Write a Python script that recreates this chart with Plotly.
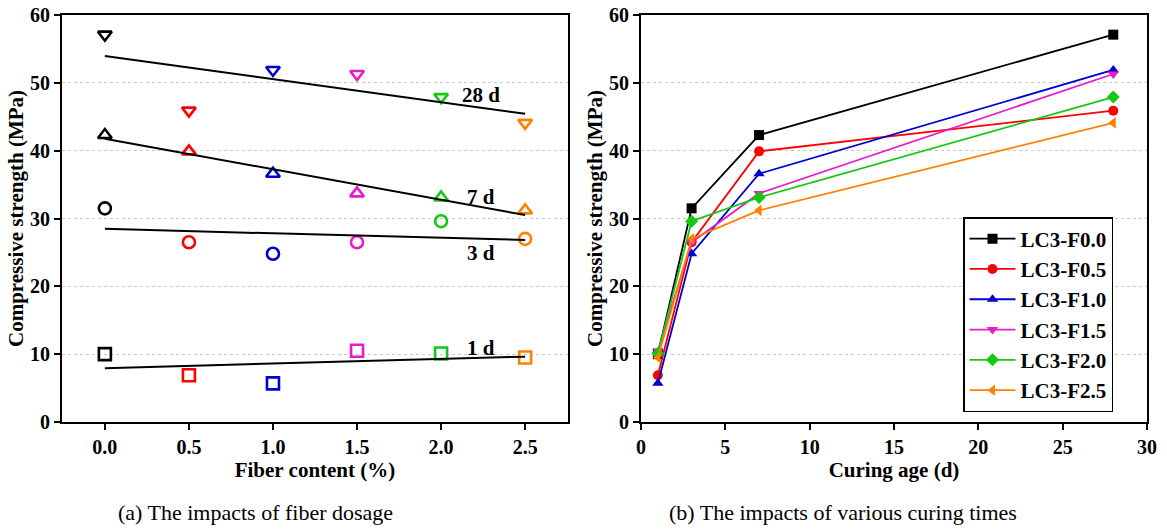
import numpy as np
import plotly.graph_objects as go

# ---- data ----
fiber = [0.0, 0.5, 1.0, 1.5, 2.0, 2.5]
days = [1, 3, 7, 28]
series_names = ["LC3-F0.0", "LC3-F0.5", "LC3-F1.0", "LC3-F1.5", "LC3-F2.0", "LC3-F2.5"]
d1 = [10.0, 6.9, 5.7, 10.5, 10.1, 9.5]
d3 = [31.5, 26.5, 24.8, 26.5, 29.6, 27.0]
d7 = [42.3, 39.9, 36.6, 33.7, 33.1, 31.2]
d28 = [57.1, 45.9, 51.9, 51.3, 47.9, 44.1]
age_labels = ["1 d", "3 d", "7 d", "28 d"]

colors = ["#000000", "#FF0000", "#0000D0", "#E61CC8", "#12C812", "#FF8000"]
open_symbols = ["square-open", "circle-open", "triangle-up-open", "triangle-down-open"]
fill_symbols = ["square", "circle", "triangle-up", "triangle-down", "diamond", "triangle-left"]

FONT = "Liberation Serif, Times New Roman, serif"
W, H = 1167, 532

def px_x(a, b):
    return [a / W, b / W]

ydom = [(H - 422) / H, (H - 15) / H]

fig = go.Figure()

by_age = [d1, d3, d7, d28]
for ai, vals in enumerate(by_age):
    fig.add_trace(go.Scatter(
        x=fiber, y=vals, mode="markers",
        marker=dict(symbol=open_symbols[ai], color=colors, size=12,
                    line=dict(width=2.6, color=colors)),
        xaxis="x", yaxis="y", showlegend=False, hoverinfo="skip"))
    k, b = np.polyfit(fiber, vals, 1)
    xs = [fiber[0], fiber[-1]]
    fig.add_trace(go.Scatter(
        x=xs, y=[k * x + b for x in xs], mode="lines",
        line=dict(color="black", width=2),
        xaxis="x", yaxis="y", showlegend=False, hoverinfo="skip"))

label_pos = {"28 d": 48.2, "7 d": 33.2, "3 d": 24.9, "1 d": 10.9}
for lab in age_labels:
    fig.add_annotation(x=2.24, y=label_pos[lab], xref="x", yref="y", text=lab,
                       showarrow=False, font=dict(family=FONT, size=21, color="black", weight="bold"))

for si, name in enumerate(series_names):
    ys = [d1[si], d3[si], d7[si], d28[si]]
    fig.add_trace(go.Scatter(
        x=days, y=ys, mode="lines+markers", name=name,
        line=dict(color=colors[si], width=1.8),
        marker=dict(symbol=fill_symbols[si], color=colors[si], size=10),
        xaxis="x2", yaxis="y2"))

axis_common = dict(showline=True, linecolor="black", linewidth=2, mirror=True,
                   ticks="outside", ticklen=6, tickwidth=2, tickcolor="black",
                   tickfont=dict(family=FONT, size=20, color="black", weight="bold"),
                   zeroline=False, automargin=False)
ygrid = dict(showgrid=True, gridcolor="#C8C8C8", griddash="dot", gridwidth=1)
tfont = dict(family=FONT, size=21, color="black", weight="bold")

fig.update_layout(
    template="none",
    width=W, height=H,
    margin=dict(l=0, r=0, t=0, b=0, autoexpand=False),
    paper_bgcolor="white", plot_bgcolor="white",
    xaxis=dict(domain=px_x(62, 568), range=[-0.255, 2.755], tickvals=fiber,
               tickformat=".1f", showgrid=False, anchor="y",
               title=dict(text="Fiber content (%)", standoff=1, font=tfont),
               **axis_common),
    yaxis=dict(domain=ydom, range=[0, 60], dtick=10, anchor="x",
               title=dict(text="Compressive strength (MPa)", standoff=1, font=tfont),
               **ygrid, **axis_common),
    xaxis2=dict(domain=px_x(641, 1147), range=[0, 30], dtick=5, showgrid=False, anchor="y2",
                title=dict(text="Curing age (d)", standoff=1, font=tfont),
                **axis_common),
    yaxis2=dict(domain=ydom, range=[0, 60], dtick=10, anchor="x2",
                title=dict(text="Compressive strength (MPa)", standoff=1, font=tfont),
                **ygrid, **axis_common),
    legend=dict(x=963 / W, y=(H - 217) / H, xanchor="left", yanchor="top",
                bordercolor="black", borderwidth=1.5, bgcolor="white",
                font=dict(family=FONT, size=21, color="black", weight="bold"),
                itemwidth=46, tracegroupgap=0),
)

fig.add_annotation(x=255 / W, y=(H - 512) / H, xref="paper", yref="paper",
                   xanchor="center", yanchor="middle",
                   text="(a) The impacts of fiber dosage", showarrow=False,
                   font=dict(family=FONT, size=22, color="black"))
fig.add_annotation(x=843 / W, y=(H - 512) / H, xref="paper", yref="paper",
                   xanchor="center", yanchor="middle",
                   text="(b) The impacts of various curing times", showarrow=False,
                   font=dict(family=FONT, size=22, color="black"))

fig.write_html("out.html", config={"displayModeBar": False},
               post_script="document.body.style.margin='0';document.body.style.overflow='hidden';")
